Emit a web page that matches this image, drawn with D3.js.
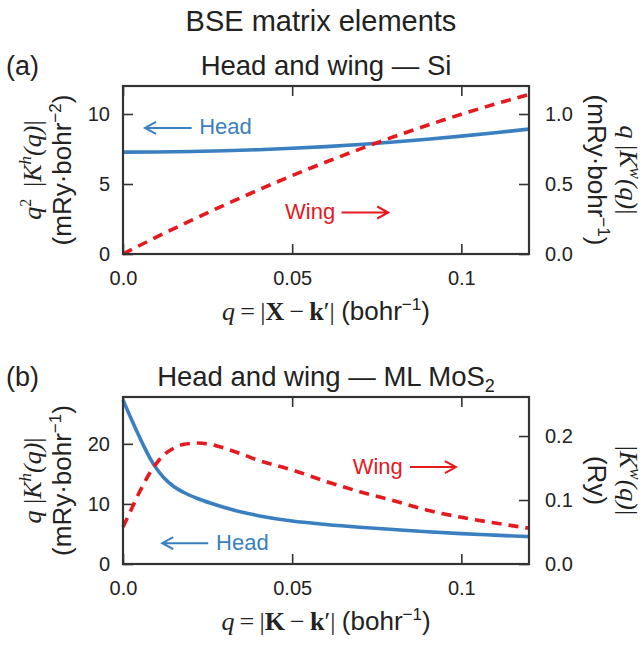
<!DOCTYPE html>
<html>
<head>
<meta charset="utf-8">
<script src="https://cdn.jsdelivr.net/npm/d3@7"></script>
<style>
	body { margin: 0; background: #fff; }
	svg text { font-family: "Liberation Sans", Arial, sans-serif; fill: #222; }
	.math { font-family: "Liberation Serif", "DejaVu Serif", serif; font-style: italic; }
	.bold { font-weight: bold; font-style: normal; }
	.axis text { font-size: 20px; }
	.axis line { stroke: #333; stroke-width: 1.6; }
	.frame { fill: none; stroke: #333; stroke-width: 2.2; }
</style>
</head>
<body>
<svg id="chart" width="644" height="646"></svg>
<script>

// panel (a): Si, head (left axis) and wing (right axis)
var qSi = [ 0, 0.01, 0.02, 0.03, 0.04, 0.05, 0.06, 0.07, 0.08, 0.09, 0.10, 0.11, 0.12 ];
var headSi = [ 7.28, 7.29, 7.32, 7.37, 7.45, 7.55, 7.67, 7.82, 8.00, 8.20, 8.42, 8.66, 8.92 ];
var wingSi = [ 0, 0.122, 0.238, 0.350, 0.457, 0.560, 0.657, 0.749, 0.837, 0.920, 0.998, 1.071, 1.140 ];

// panel (b): ML MoS2
var qMoS2 = [ 0, 0.002, 0.004, 0.006, 0.008, 0.010, 0.012, 0.015, 0.018, 0.022, 0.026, 0.03, 0.035, 0.04, 0.05, 0.06, 0.07, 0.08, 0.09, 0.10, 0.11, 0.12 ];
var headMoS2 = [ 27.3, 24.7, 22.2, 19.8, 17.6, 15.8, 14.4, 12.9, 11.9, 10.9, 10.1, 9.4, 8.65, 8.05, 7.15, 6.58, 6.12, 5.74, 5.38, 5.06, 4.8, 4.55 ];
var wingMoS2 = [ 0.058, 0.080, 0.103, 0.124, 0.143, 0.158, 0.170, 0.181, 0.187, 0.189, 0.187, 0.181, 0.172, 0.162, 0.147, 0.129, 0.113, 0.099, 0.084, 0.073, 0.064, 0.056 ];

// ticks
var qTicks = [ 0, 0.05, 0.1 ];
var qTickLabels = [ '0.0', '0.05', '0.1' ];
var leftTicksSi = [ 0, 5, 10 ];
var leftLabelsSi = [ '0', '5', '10' ];
var rightTicksSi = [ 0, 0.5, 1.0 ];
var rightLabelsSi = [ '0.0', '0.5', '1.0' ];
var leftTicksMoS2 = [ 0, 10, 20 ];
var leftLabelsMoS2 = [ '0', '10', '20' ];
var rightTicksMoS2 = [ 0, 0.1, 0.2 ];
var rightLabelsMoS2 = [ '0.0', '0.1', '0.2' ];

var blue = '#3a7fc0';
var red = '#e5191e';

var svg = d3.select( '#chart' );

svg.append( 'text' )
	.attr( 'x', 321 ).attr( 'y', 31 )
	.attr( 'text-anchor', 'middle' )
	.style( 'font-size', '29px' )
	.text( 'BSE matrix elements' );

var x = d3.scaleLinear().domain( [ 0, 0.12 ] ).range( [ 123, 529 ] );

function tickLabeller( values, labels ) {
	return function ( d ) { return labels[ values.indexOf( d ) ]; };
}

function drawPanel( p ) {

	var yL = d3.scaleLinear().domain( p.leftDomain ).range( [ p.bottom, p.top ] );
	var yR = d3.scaleLinear().domain( p.rightDomain ).range( [ p.bottom, p.top ] );

	var g = svg.append( 'g' );

	// panel letter and title
	g.append( 'text' ).attr( 'x', 6 ).attr( 'y', p.top - 11 ).style( 'font-size', '27px' ).text( p.letter );
	var title = g.append( 'text' )
		.attr( 'x', 326 ).attr( 'y', p.top - 11 )
		.attr( 'text-anchor', 'middle' )
		.style( 'font-size', '27.5px' );
	title.append( 'tspan' ).text( p.title );
	if ( p.titleSub ) {
		title.append( 'tspan' ).attr( 'dy', 6 ).style( 'font-size', '18px' ).text( p.titleSub );
	}

	// axes, ticks inward
	g.append( 'g' ).attr( 'class', 'axis' )
		.attr( 'transform', 'translate(0,' + p.bottom + ')' )
		.call( d3.axisBottom( x ).tickValues( qTicks ).tickFormat( tickLabeller( qTicks, qTickLabels ) )
			.tickSizeInner( -10 ).tickSizeOuter( 0 ).tickPadding( 17 ) );
	g.append( 'g' ).attr( 'class', 'axis' )
		.attr( 'transform', 'translate(0,' + p.top + ')' )
		.call( d3.axisTop( x ).tickValues( qTicks ).tickFormat( '' )
			.tickSizeInner( -10 ).tickSizeOuter( 0 ) );
	g.append( 'g' ).attr( 'class', 'axis' )
		.attr( 'transform', 'translate(123,0)' )
		.call( d3.axisLeft( yL ).tickValues( p.leftTicks ).tickFormat( tickLabeller( p.leftTicks, p.leftLabels ) )
			.tickSizeInner( -10 ).tickSizeOuter( 0 ).tickPadding( 13 ) );
	g.append( 'g' ).attr( 'class', 'axis' )
		.attr( 'transform', 'translate(529,0)' )
		.call( d3.axisRight( yR ).tickValues( p.rightTicks ).tickFormat( tickLabeller( p.rightTicks, p.rightLabels ) )
			.tickSizeInner( -10 ).tickSizeOuter( 0 ).tickPadding( 16 ) );
	g.selectAll( '.axis .domain' ).remove();

	// curves
	var headLine = d3.line()
		.x( function ( d, i ) { return x( p.q[i] ); } )
		.y( function ( d ) { return yL( d ); } )
		.curve( d3.curveMonotoneX );
	var wingLine = d3.line()
		.x( function ( d, i ) { return x( p.q[i] ); } )
		.y( function ( d ) { return yR( d ); } )
		.curve( d3.curveMonotoneX );

	g.append( 'path' ).datum( p.head )
		.attr( 'd', headLine )
		.style( 'fill', 'none' ).style( 'stroke', blue ).style( 'stroke-width', 3.6 );
	g.append( 'path' ).datum( p.wing )
		.attr( 'd', wingLine )
		.style( 'fill', 'none' ).style( 'stroke', red ).style( 'stroke-width', 3.6 )
		.style( 'stroke-dasharray', '10,7' );

	g.append( 'rect' ).attr( 'class', 'frame' )
		.attr( 'x', 123 ).attr( 'y', p.top )
		.attr( 'width', 406 ).attr( 'height', p.bottom - p.top );

	// annotations
	p.notes.forEach( function ( n ) {
		var ty = yL( n.v );
		var ay = ty - 6.5;
		var x1 = x( n.from ), x2 = x( n.to );
		var dir = x2 > x1 ? 1 : -1;
		g.append( 'text' ).attr( 'x', x( n.q ) ).attr( 'y', ty )
			.style( 'font-size', '22px' ).style( 'fill', n.color ).text( n.text );
		g.append( 'path' )
			.attr( 'd', 'M' + x1 + ',' + ay + 'L' + x2 + ',' + ay +
				'M' + ( x2 - dir * 11 ) + ',' + ( ay - 6 ) + 'L' + x2 + ',' + ay + 'L' + ( x2 - dir * 11 ) + ',' + ( ay + 6 ) )
			.style( 'fill', 'none' ).style( 'stroke', n.color ).style( 'stroke-width', 2 );
	} );

	// x label
	var midY = ( p.top + p.bottom ) / 2;
	var xl = g.append( 'text' )
		.attr( 'x', 326 ).attr( 'y', p.bottom + 66 )
		.attr( 'text-anchor', 'middle' )
		.style( 'font-size', '26px' );
	xl.append( 'tspan' ).attr( 'class', 'math' ).text( 'q' );
	xl.append( 'tspan' ).attr( 'class', 'math' ).style( 'font-style', 'normal' ).text( '\u2009=\u2009|' );
	xl.append( 'tspan' ).attr( 'class', 'math bold' ).text( p.point );
	xl.append( 'tspan' ).attr( 'class', 'math' ).style( 'font-style', 'normal' ).text( '\u2009\u2212\u2009' );
	xl.append( 'tspan' ).attr( 'class', 'math bold' ).text( 'k' );
	xl.append( 'tspan' ).attr( 'class', 'math' ).style( 'font-style', 'normal' ).text( '\u2032| ' );
	xl.append( 'tspan' ).text( '(bohr' );
	xl.append( 'tspan' ).attr( 'dy', -10 ).style( 'font-size', '17px' ).text( '\u22121' );
	xl.append( 'tspan' ).attr( 'dy', 10 ).text( ')' );

	// left label, two lines
	var ll = g.append( 'g' ).attr( 'transform', 'translate(0,' + midY + ') rotate(-90)' );
	var l1 = ll.append( 'text' ).attr( 'x', 0 ).attr( 'y', 41 ).attr( 'text-anchor', 'middle' ).style( 'font-size', '26px' );
	l1.append( 'tspan' ).attr( 'class', 'math' ).text( 'q' );
	if ( p.qSquared ) {
		l1.append( 'tspan' ).attr( 'dy', -10 ).style( 'font-size', '16px' ).attr( 'class', 'math' ).style( 'font-style', 'normal' ).text( '2' );
		l1.append( 'tspan' ).attr( 'dy', 10 ).text( '\u2009' );
	}
	l1.append( 'tspan' ).attr( 'class', 'math' ).style( 'font-style', 'normal' ).text( ' |' );
	l1.append( 'tspan' ).attr( 'class', 'math' ).text( 'K' );
	l1.append( 'tspan' ).attr( 'class', 'math' ).attr( 'dy', -10 ).style( 'font-size', '17px' ).text( 'h' );
	l1.append( 'tspan' ).attr( 'class', 'math' ).attr( 'dy', 10 ).text( '(q)' );
	l1.append( 'tspan' ).attr( 'class', 'math' ).style( 'font-style', 'normal' ).text( '|' );
	var l2 = ll.append( 'text' ).attr( 'x', 0 ).attr( 'y', 71 ).attr( 'text-anchor', 'middle' ).style( 'font-size', '26px' );
	l2.append( 'tspan' ).text( '(mRy\u00b7bohr' );
	l2.append( 'tspan' ).attr( 'dy', -10 ).style( 'font-size', '17px' ).text( p.leftUnitExp );
	l2.append( 'tspan' ).attr( 'dy', 10 ).text( ')' );

	// right label, two lines
	var rl = g.append( 'g' ).attr( 'transform', 'translate(644,' + midY + ') rotate(90)' );
	var r1 = rl.append( 'text' ).attr( 'x', 0 ).attr( 'y', 56 ).attr( 'text-anchor', 'middle' ).style( 'font-size', '26px' );
	if ( p.rightUnitExp ) {
		r1.append( 'tspan' ).text( '(mRy\u00b7bohr' );
		r1.append( 'tspan' ).attr( 'dy', -10 ).style( 'font-size', '17px' ).text( p.rightUnitExp );
		r1.append( 'tspan' ).attr( 'dy', 10 ).text( ')' );
	} else {
		r1.append( 'tspan' ).text( '(Ry)' );
	}
	var r2 = rl.append( 'text' ).attr( 'x', 0 ).attr( 'y', 24 ).attr( 'text-anchor', 'middle' ).style( 'font-size', '26px' );
	if ( p.rightQ ) {
		r2.append( 'tspan' ).attr( 'class', 'math' ).text( 'q ' );
	}
	r2.append( 'tspan' ).attr( 'class', 'math' ).style( 'font-style', 'normal' ).text( '|' );
	r2.append( 'tspan' ).attr( 'class', 'math' ).text( 'K' );
	r2.append( 'tspan' ).attr( 'class', 'math' ).attr( 'dy', -10 ).style( 'font-size', '17px' ).text( 'w' );
	r2.append( 'tspan' ).attr( 'class', 'math' ).attr( 'dy', 10 ).text( '(q)' );
	r2.append( 'tspan' ).attr( 'class', 'math' ).style( 'font-style', 'normal' ).text( '|' );
}

drawPanel( {
	letter: '(a)', title: 'Head and wing \u2014 Si', titleSub: null,
	top: 86, bottom: 254,
	q: qSi, head: headSi, wing: wingSi,
	leftDomain: [ 0, 12 ], rightDomain: [ 0, 1.2 ],
	leftTicks: leftTicksSi, leftLabels: leftLabelsSi,
	rightTicks: rightTicksSi, rightLabels: rightLabelsSi,
	point: 'X', qSquared: true, leftUnitExp: '\u22122', rightUnitExp: '\u22121', rightQ: true,
	notes: [
		{ text: 'Head', color: blue, q: 0.0225, v: 8.54, from: 0.0203, to: 0.0065 },
		{ text: 'Wing', color: red, q: 0.0479, v: 2.5, from: 0.0646, to: 0.0784 }
	]
} );

drawPanel( {
	letter: '(b)', title: 'Head and wing \u2014 ML MoS', titleSub: '2',
	top: 397, bottom: 564,
	q: qMoS2, head: headMoS2, wing: wingMoS2,
	leftDomain: [ 0, 27.8 ], rightDomain: [ 0, 0.261 ],
	leftTicks: leftTicksMoS2, leftLabels: leftLabelsMoS2,
	rightTicks: rightTicksMoS2, rightLabels: rightLabelsMoS2,
	point: 'K', qSquared: false, leftUnitExp: '\u22121', rightUnitExp: null, rightQ: false,
	notes: [
		{ text: 'Wing', color: red, q: 0.0679, v: 15.05, from: 0.0848, to: 0.0984 },
		{ text: 'Head', color: blue, q: 0.0275, v: 2.38, from: 0.0252, to: 0.0116 }
	]
} );

</script>
</body>
</html>
